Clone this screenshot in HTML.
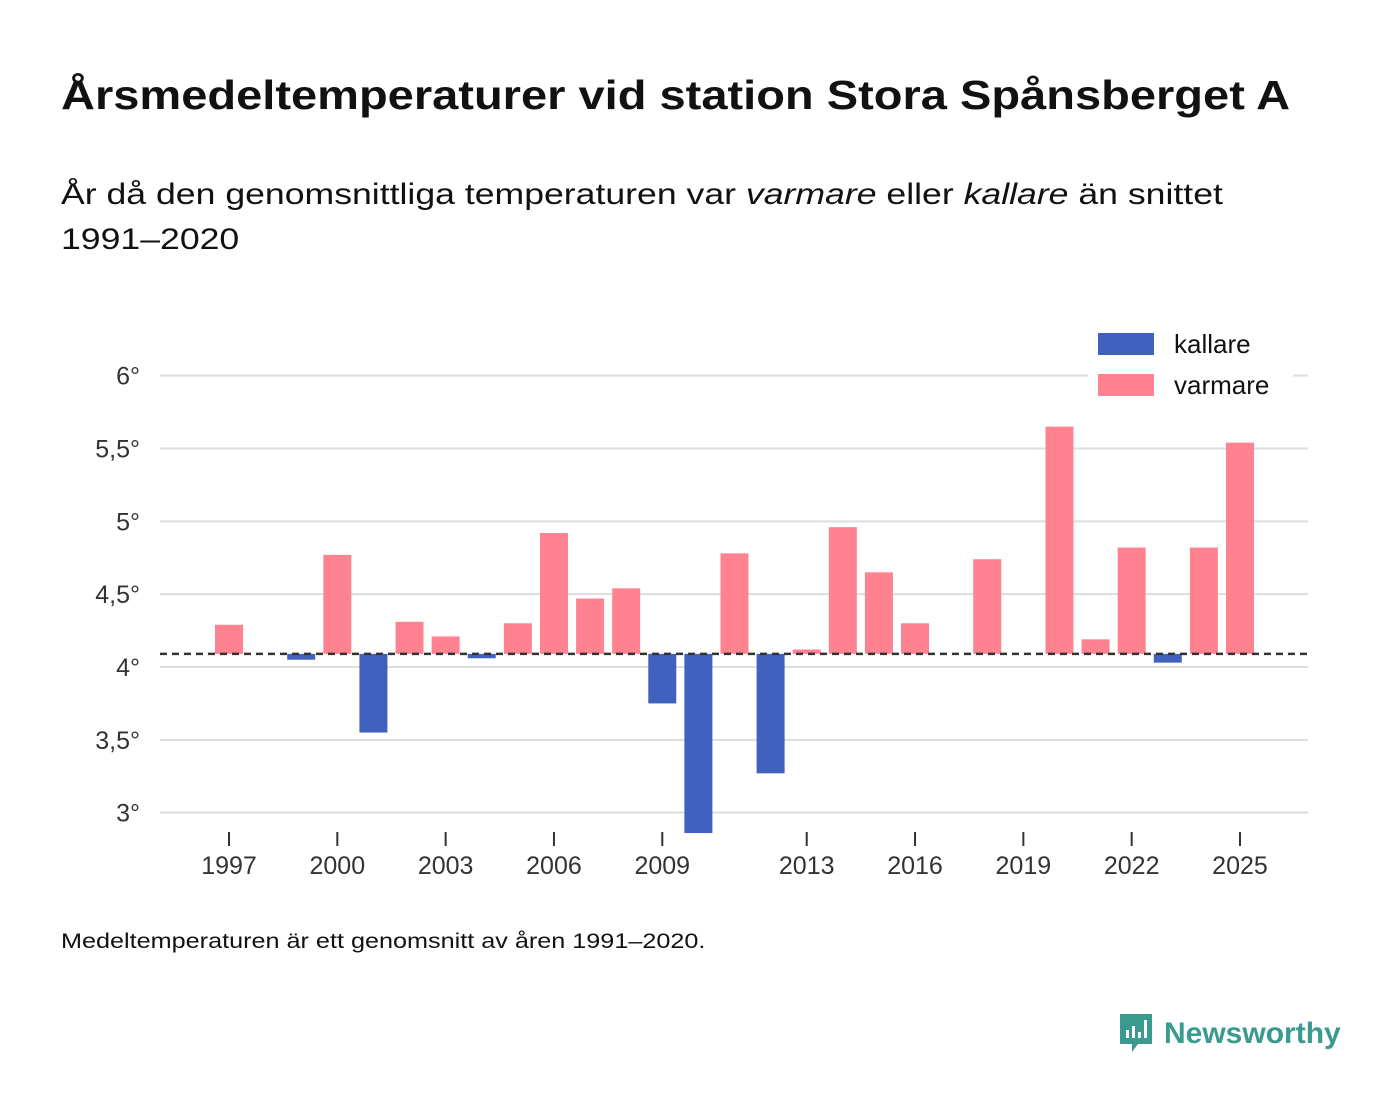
<!DOCTYPE html>
<html><head><meta charset="utf-8"><style>
body{margin:0;width:1400px;height:1116px;background:#fff;font-family:"Liberation Sans",sans-serif;color:#111;position:relative;overflow:hidden}
.t{position:absolute;left:61px;top:72px;font-size:41px;font-weight:bold;margin:0;white-space:nowrap;transform:scaleX(1.147);transform-origin:left top}
.s{position:absolute;left:61px;top:172px;font-size:30px;line-height:45px;white-space:nowrap;transform:scaleX(1.187);transform-origin:left top}
.f{position:absolute;left:61px;top:930px;font-size:21px;white-space:nowrap;transform:scaleX(1.2);transform-origin:left top}
.logo{position:absolute;left:1118px;top:1012px;display:flex;align-items:center;color:#3a9a8f;font-weight:bold;font-size:30px}
</style></head><body>
<h1 class="t">Årsmedeltemperaturer vid station Stora Spånsberget A</h1>
<div class="s">År då den genomsnittliga temperaturen var <i>varmare</i> eller <i>kallare</i> än snittet<br>1991–2020</div>
<svg id="c" width="1400" height="1116" style="position:absolute;left:0;top:0"></svg>
<div class="f">Medeltemperaturen är ett genomsnitt av åren 1991–2020.</div>
<div class="logo"><svg width="36" height="44" viewBox="0 0 36 44"><path d="M2 2h32v30H20l-6 8v-8H2z" fill="#3a9a8f"/><rect x="8" y="18" width="3" height="8" fill="#fff"/><rect x="14" y="14" width="3" height="12" fill="#fff"/><rect x="20" y="20" width="3" height="6" fill="#fff"/><rect x="26" y="8" width="3" height="18" fill="#fff"/></svg><span style="margin-left:10px">Newsworthy</span></div>
<script>
const years=[1997,1999,2000,2001,2002,2003,2004,2005,2006,2007,2008,2009,2010,2011,2012,2013,2014,2015,2016,2018,2020,2021,2022,2023,2024,2025];
const values=[4.29,4.05,4.77,3.55,4.31,4.21,4.06,4.30,4.92,4.47,4.54,3.75,2.86,4.78,3.27,4.12,4.96,4.65,4.30,4.74,5.65,4.19,4.82,4.03,4.82,5.54];
const baseline=4.09;
const yTicks=[3,3.5,4,4.5,5,5.5,6];
const yLabels=["3°","3,5°","4°","4,5°","5°","5,5°","6°"];
const xTicks=[1997,2000,2003,2006,2009,2013,2016,2019,2022,2025];
const svg=document.getElementById('c');const NS='http://www.w3.org/2000/svg';
const X=y=>229+(y-1997)*36.107;
const Y=v=>667-(v-4)*145.67;
function mk(t,a){const e=document.createElementNS(NS,t);for(const k in a)e.setAttribute(k,a[k]);svg.appendChild(e);return e;}
yTicks.forEach((v,i)=>{
 const l=mk('line',{x1:160,x2:1308,y1:Y(v),y2:Y(v),stroke:'#ddd','stroke-width':2});
 
 
 const t=mk('text',{x:140,y:Y(v)+9,'text-anchor':'end','font-size':25,fill:'#333','font-family':'Liberation Sans, sans-serif'});
 t.textContent=yLabels[i];
 
 
});
xTicks.forEach(y=>{
 const l=mk('line',{x1:X(y),x2:X(y),y1:832,y2:846,stroke:'#333','stroke-width':2});
 
 
 const t=mk('text',{x:X(y),y:874,'text-anchor':'middle','font-size':25,fill:'#333','font-family':'Liberation Sans, sans-serif'});
 t.textContent=y;
 
 
});
years.forEach((yr,i)=>{
 const v=values[i];const a=Y(v),b=Y(baseline);
 const r=mk('rect',{x:X(yr)-14,y:Math.min(a,b),width:28,height:Math.abs(a-b),fill:v>=baseline?'#ff8290':'#4061bd'});
 
 
});
const d=mk('line',{x1:160,x2:1308,y1:Y(baseline),y2:Y(baseline),stroke:'#333','stroke-width':2.5,'stroke-dasharray':'7,5'});


const bg=mk('rect',{x:1088,y:326,width:205,height:78,fill:'#fff'});


[['kallare','#4061bd',333],['varmare','#ff8290',374]].forEach(([n,c,y])=>{
 const r=mk('rect',{x:1098,y:y,width:56,height:22,fill:c});
 
 
 const t=mk('text',{x:1174,y:y+20,'font-size':26,fill:'#111','font-family':'Liberation Sans, sans-serif'});
 t.textContent=n;
 
 
});
</script>
</body></html>
